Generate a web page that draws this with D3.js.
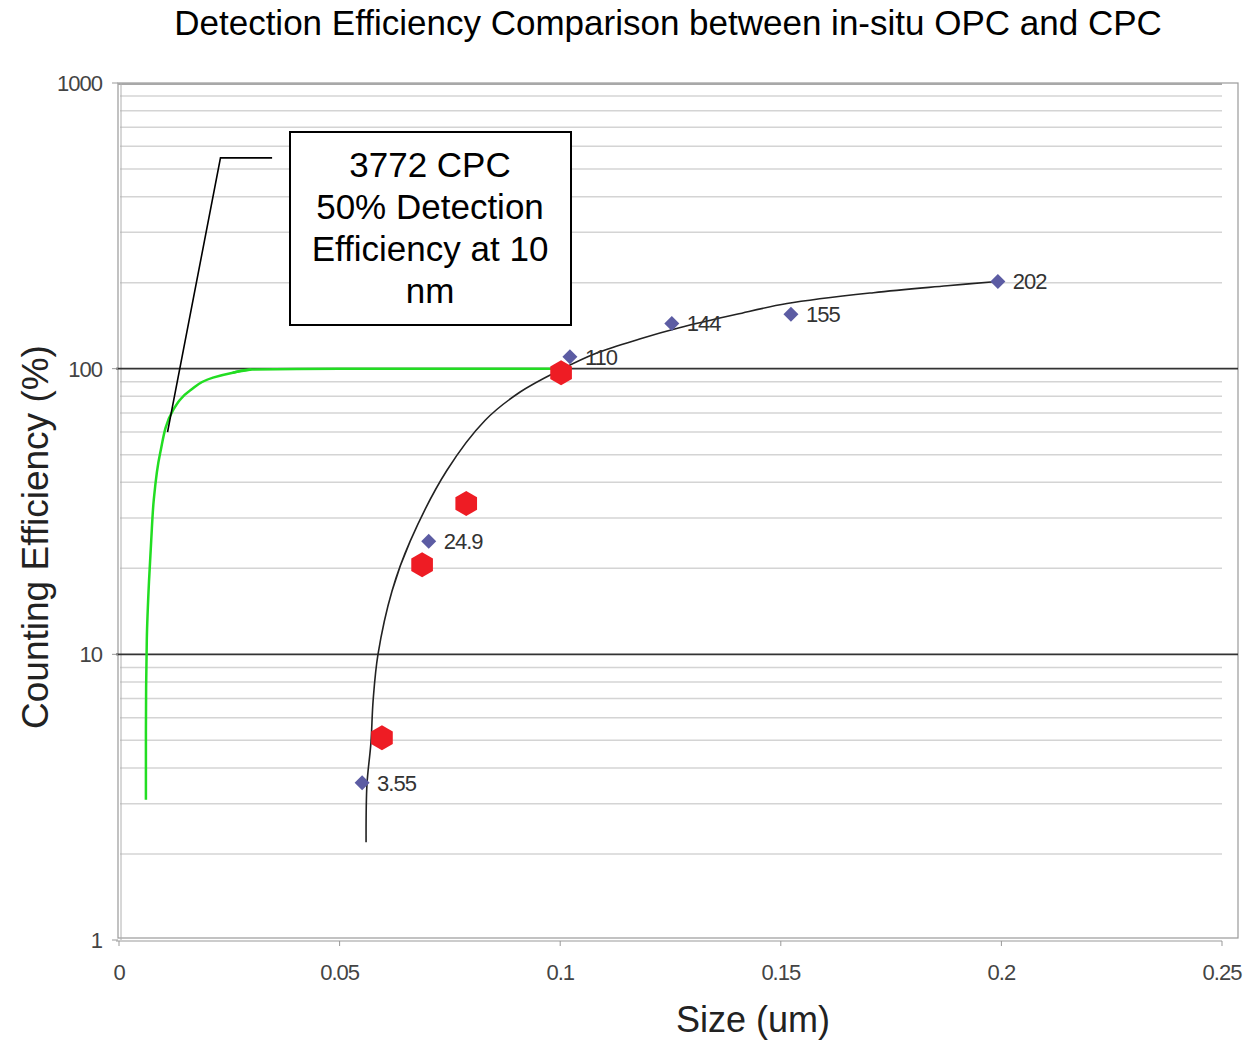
<!DOCTYPE html>
<html>
<head>
<meta charset="utf-8">
<script src="https://cdn.jsdelivr.net/npm/d3@7"></script>
<style>
  body { margin:0; background:#fff; }
  text { font-family: "Liberation Sans", Arial, sans-serif; }
</style>
</head>
<body>
<div id="chart-area"></div>
<script>
// data
var opcSize = [0.0551, 0.0702, 0.1022, 0.1253, 0.1523, 0.1992];
var opcValue = [3.55, 24.9, 110, 144, 155, 202];
var opcLabel = ["3.55", "24.9", "110", "144", "155", "202"];

var cpcSize = [0.0596, 0.0687, 0.0787, 0.1002];
var cpcValue = [5.1, 20.6, 33.7, 96.8];

var fitSize = [0.0560, 0.0562, 0.0571, 0.0576, 0.0587, 0.0619, 0.0660, 0.0743, 0.0830, 0.0910, 0.1000, 0.1080, 0.1180, 0.1270, 0.1400, 0.1514, 0.1710, 0.1877, 0.1990];
var fitValue = [2.2, 3.5, 4.9, 6.9, 10, 16.7, 24.9, 44, 66, 83, 99, 113, 127, 139, 155, 169, 184.5, 195, 202];

var greenSize = [0.0061, 0.0061, 0.0063, 0.0068, 0.0073, 0.0079, 0.0093, 0.0122, 0.0161, 0.0213, 0.0258, 0.0300, 0.0500, 0.1000];
var greenValue = [3.1, 5.3, 11.2, 18, 25, 35, 50.4, 71.3, 83.8, 93, 96.8, 99.3, 100, 100];

var xTicks = [0, 0.05, 0.1, 0.15, 0.2, 0.25];
var xTickLabels = ["0", "0.05", "0.1", "0.15", "0.2", "0.25"];
var yTicks = [1, 10, 100, 1000];
var yTickLabels = ["1", "10", "100", "1000"];
var boxLines = ["3772 CPC", "50% Detection", "Efficiency at 10", "nm"];

var width = 1258, height = 1043;

var svg = d3.select("#chart-area").append("svg")
    .attr("width", width)
    .attr("height", height);

//scales
var x = d3.scaleLinear().domain([0, 0.25]).range([119, 1222]);
var y = d3.scaleLog().domain([1, 1000]).range([940, 83]);

//minor gridlines
var minor = [];
[1, 10, 100].forEach(function(dec){
    for (var k = 2; k <= 9; k++) minor.push(dec * k);
});
svg.selectAll(".minor").data(minor).enter().append("line")
    .attr("class", "minor")
    .attr("x1", 120).attr("x2", x(0.25))
    .attr("y1", function(d){ return y(d); })
    .attr("y2", function(d){ return y(d); })
    .attr("stroke", "#d4d4d4")
    .attr("stroke-width", 1.5);

//plot frame
svg.append("rect")
    .attr("x", 118).attr("y", y(1000))
    .attr("width", 1238 - 118).attr("height", 938 - y(1000))
    .attr("fill", "none")
    .attr("stroke", "#9a9a9a")
    .attr("stroke-width", 1.2);
svg.append("line")
    .attr("x1", 118).attr("x2", x(0.25))
    .attr("y1", y(1000) + 1).attr("y2", y(1000) + 1)
    .attr("stroke", "#a8a8a8").attr("stroke-width", 2);
svg.append("line")
    .attr("x1", 121).attr("x2", 121)
    .attr("y1", y(1000)).attr("y2", 940)
    .attr("stroke", "#b0b0b0").attr("stroke-width", 1);
svg.append("line")
    .attr("x1", 116).attr("x2", x(0.25))
    .attr("y1", 941).attr("y2", 941)
    .attr("stroke", "#999").attr("stroke-width", 1.2);

//major lines at 10 and 100
svg.selectAll(".major").data([10, 100]).enter().append("line")
    .attr("class", "major")
    .attr("x1", 116).attr("x2", 1238)
    .attr("y1", function(d){ return y(d); })
    .attr("y2", function(d){ return y(d); })
    .attr("stroke", "#333")
    .attr("stroke-width", 1.6);

//ticks and labels
svg.selectAll(".xtick").data(xTicks).enter().append("line")
    .attr("x1", function(d){ return x(d); })
    .attr("x2", function(d){ return x(d); })
    .attr("y1", 941).attr("y2", 946)
    .attr("stroke", "#999");
svg.selectAll(".xlab").data(xTicks).enter().append("text")
    .attr("x", function(d){ return x(d); })
    .attr("y", 980)
    .attr("text-anchor", "middle")
    .attr("font-size", "22px")
    .attr("fill", "#444")
    .attr("letter-spacing", "-1px")
    .text(function(d, i){ return xTickLabels[i]; });
svg.selectAll(".ytick").data(yTicks).enter().append("line")
    .attr("x1", 112).attr("x2", 118)
    .attr("y1", function(d){ return y(d); })
    .attr("y2", function(d){ return y(d); })
    .attr("stroke", "#999");
svg.selectAll(".ylab").data(yTicks).enter().append("text")
    .attr("x", 102)
    .attr("y", function(d){ return y(d) + 8; })
    .attr("text-anchor", "end")
    .attr("font-size", "22px")
    .attr("fill", "#444")
    .attr("letter-spacing", "-1px")
    .text(function(d, i){ return yTickLabels[i]; });

//green CPC curve
var greenLine = d3.line()
    .x(function(d){ return x(d[0]); })
    .y(function(d){ return y(d[1]); })
    .curve(d3.curveMonotoneY);
svg.append("path")
    .attr("d", greenLine(d3.zip(greenSize, greenValue).slice(0, 12)))
    .attr("fill", "none")
    .attr("stroke", "#22dd22")
    .attr("stroke-width", 2.5);
svg.append("path")
    .attr("d", d3.line()
        .x(function(d){ return x(d[0]); })
        .y(function(d){ return y(d[1]); })
        .curve(d3.curveMonotoneX)(d3.zip(greenSize, greenValue).slice(10)))
    .attr("fill", "none")
    .attr("stroke", "#22dd22")
    .attr("stroke-width", 2.5);

//black fit curve
var fitLine = d3.line()
    .x(function(d){ return x(d[0]); })
    .y(function(d){ return y(d[1]); })
    .curve(d3.curveCatmullRom);
svg.append("path")
    .attr("d", fitLine(d3.zip(fitSize, fitValue)))
    .attr("fill", "none")
    .attr("stroke", "#222")
    .attr("stroke-width", 1.6);

//OPC diamonds
svg.selectAll(".dia").data(d3.zip(opcSize, opcValue)).enter().append("path")
    .attr("transform", function(d){ return "translate(" + x(d[0]) + "," + y(d[1]) + ")"; })
    .attr("d", "M0,-7.5L7.5,0L0,7.5L-7.5,0Z")
    .attr("fill", "#5c5ca3");
svg.selectAll(".dlab").data(d3.zip(opcSize, opcValue, opcLabel)).enter().append("text")
    .attr("x", function(d){ return x(d[0]) + 15; })
    .attr("y", function(d){ return y(d[1]) + 8; })
    .attr("font-size", "22px")
    .attr("fill", "#333")
    .attr("letter-spacing", "-1px")
    .text(function(d){ return d[2]; });

//CPC hexagons
var hex = d3.range(6).map(function(i){
    var a = -Math.PI / 2 + i * Math.PI / 3;
    return [12.5 * Math.cos(a), 12.5 * Math.sin(a)];
});
svg.selectAll(".hex").data(d3.zip(cpcSize, cpcValue)).enter().append("path")
    .attr("transform", function(d){ return "translate(" + x(d[0]) + "," + y(d[1]) + ")"; })
    .attr("d", "M" + hex.join("L") + "Z")
    .attr("fill", "#ee1c24");

//annotation box + pointer
svg.append("polyline")
    .attr("points", [[x(0.0347), y(547)], [x(0.023), y(547)], [x(0.011), y(60)]].join(" "))
    .attr("fill", "none")
    .attr("stroke", "#000")
    .attr("stroke-width", 1.6);
svg.append("rect")
    .attr("x", 290).attr("y", 132)
    .attr("width", 281).attr("height", 193)
    .attr("fill", "#fff")
    .attr("stroke", "#000")
    .attr("stroke-width", 2);
svg.selectAll(".box").data(boxLines).enter().append("text")
    .attr("x", 430)
    .attr("y", function(d, i){ return 177 + i * 42; })
    .attr("text-anchor", "middle")
    .attr("font-size", "35px")
    .attr("fill", "#000")
    .text(function(d){ return d; });

//titles
svg.append("text")
    .attr("x", 668).attr("y", 35)
    .attr("text-anchor", "middle")
    .attr("font-size", "35px")
    .attr("fill", "#000")
    .text("Detection Efficiency Comparison between in-situ OPC and CPC");
svg.append("text")
    .attr("transform", "translate(48,537) rotate(-90)")
    .attr("text-anchor", "middle")
    .attr("font-size", "37px")
    .attr("fill", "#222")
    .text("Counting Efficiency (%)");
svg.append("text")
    .attr("x", 753).attr("y", 1032)
    .attr("text-anchor", "middle")
    .attr("font-size", "36px")
    .attr("fill", "#222")
    .text("Size (um)");
</script>
</body>
</html>
